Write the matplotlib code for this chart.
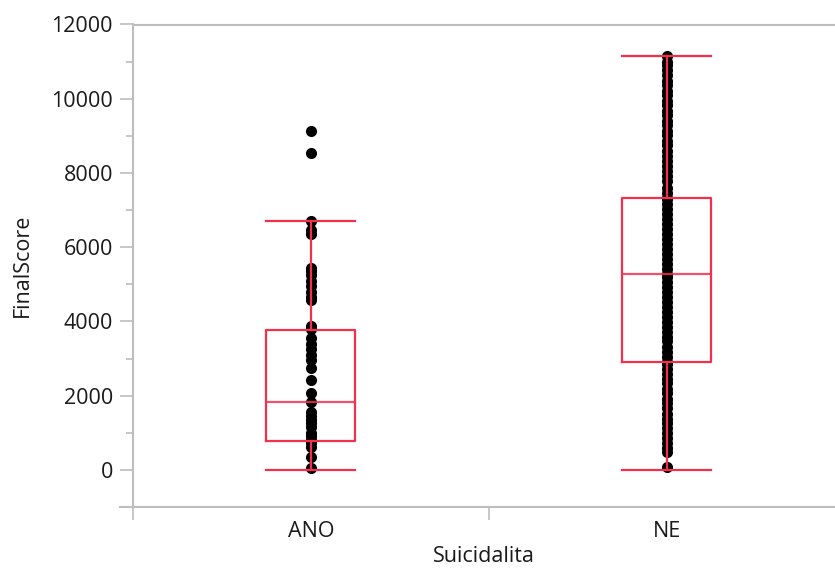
import matplotlib
matplotlib.use("Agg")
import matplotlib.pyplot as plt
from matplotlib.lines import Line2D

plt.rcParams['font.family'] = ['Open Sans', 'DejaVu Sans']

categories = ["ANO", "NE"]

ano_values = [9130, 8540, 6700, 6450, 6350, 5450, 5350, 5250, 5100, 4950, 4800,
              4650, 4580, 3880, 3800, 3550, 3400, 3250, 3100, 2950, 2750, 2430,
              2080, 1840, 1550, 1450, 1350, 1250, 1150, 1000, 900, 800, 730, 630,
              360, 50]

ne_values = [80, 470, 590, 720, 850, 990, 1120, 1260, 1380, 1510, 1660, 1790,
             1920, 2060, 2190, 2330, 2450, 2590, 2720, 2860, 2910, 3050, 3180,
             3310, 3460, 3580, 3720, 3850, 3990, 4120, 4260, 4390, 4520, 4660,
             4790, 4930, 5060, 5190, 5280, 5410, 5550, 5680, 5820, 5950, 6080,
             6220, 6350, 6490, 6620, 6760, 6890, 7030, 7160, 7300, 7330, 7470,
             7600, 7790, 7930, 8060, 8200, 8330, 8470, 8600, 8740, 8870, 9010,
             9140, 9280, 9410, 9550, 9680, 9820, 9950, 10090, 10220, 10360,
             10480, 10640, 10780, 10910, 10990, 11140]

# box statistics
whislo = [0, 0]
q1 = [790, 2910]
med = [1830, 5280]
q3 = [3780, 7330]
whishi = [6700, 11150]

RED = '#F2304E'
GRAY = '#BEBEBE'
TXT = '#1a1a1a'
FS = 15.5

fig = plt.figure(figsize=(8.35, 5.72), dpi=100)
ax = fig.add_axes([133/835, 1 - 507/572, 1 - 133/835, (507 - 24.5)/572])

groups = [ano_values, ne_values]
for i, vals in enumerate(groups):
    ax.plot([i] * len(vals), vals, 'o', color='black', ms=8, mew=0, zorder=2)

stats = []
for i, c in enumerate(categories):
    stats.append(dict(label=c, whislo=whislo[i], q1=q1[i], med=med[i],
                      q3=q3[i], whishi=whishi[i], fliers=[]))

lp = dict(color=RED, linewidth=1.6)
ax.bxp(stats, positions=[0, 1], widths=0.25, capwidths=0.25,
       showfliers=False, boxprops=lp, whiskerprops=lp, capprops=lp,
       medianprops=dict(color=RED, linewidth=1.6, alpha=0.85),
       manage_ticks=False, zorder=3)

ax.set_ylim(-1000, 12000)
ax.set_xlim(-0.5, 1.472)

ax.set_yticks(range(0, 12001, 2000))
ax.set_yticks(range(1000, 12000, 2000), minor=True)
ax.set_xticks([0, 1])
ax.set_xticklabels(categories)
ax.set_xticks([-0.5, 0.5], minor=True)

ax.tick_params(axis='y', which='major', length=9.4, width=1.2, color=GRAY,
               labelsize=FS, pad=5, labelcolor=TXT)
ax.tick_params(axis='y', which='minor', length=5, width=1.2, color=GRAY)
ax.tick_params(axis='x', which='major', length=0, labelsize=FS, pad=10,
               labelcolor=TXT)
ax.tick_params(axis='x', which='minor', length=9, width=1.2, color=GRAY)

for s in ['left', 'bottom', 'top']:
    ax.spines[s].set_color(GRAY)
    ax.spines[s].set_linewidth(1.5)
ax.spines['right'].set_visible(False)

# small extension of the bottom axis line to the left of the y axis
ax.add_line(Line2D([-0.5 - 13/356, -0.5], [-1000, -1000], color=GRAY, lw=1.5,
                   clip_on=False))

ax.set_ylabel('FinalScore', fontsize=FS, color=TXT, va='center')
ax.yaxis.set_label_coords((22.5 - 133) / (835 - 133), 0.5)
ax.set_xlabel('Suicidalita', fontsize=FS, color=TXT, va='center')
ax.xaxis.set_label_coords(0.5, -(557 - 507) / (507 - 24.5))

fig.savefig('out.png', dpi=100)
